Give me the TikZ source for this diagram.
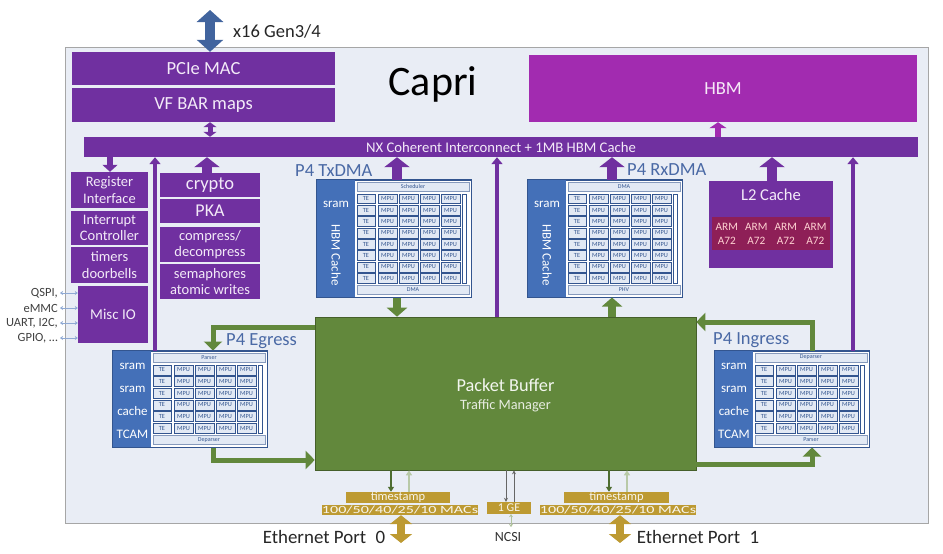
\documentclass[tikz,border=0pt]{standalone}
\usepackage{fontspec}
\setmainfont{Carlito}
\usetikzlibrary{arrows.meta}
\definecolor{pur}{HTML}{7030A0}
\definecolor{hbmc}{HTML}{A22BB0}
\definecolor{armred}{HTML}{8E1F57}
\definecolor{pblue}{HTML}{4470B8}
\definecolor{pline}{HTML}{33558F}
\definecolor{pcell}{HTML}{E2E9F4}
\definecolor{grn}{HTML}{62883C}
\definecolor{gold}{HTML}{BD9A32}
\definecolor{framefill}{HTML}{E9EDF5}
\definecolor{lbl}{HTML}{4A69A5}
\definecolor{ltext}{HTML}{F3EAF8}
\definecolor{pcieblue}{HTML}{41649E}
\newcommand\fsz[2]{\fontsize{#1}{#2}\selectfont}
\tikzset{
  pbox/.style={fill=pur, text=ltext, inner sep=0, align=center, font=\fsz{14.5}{16.5}},
  p4lbl/.style={text=lbl, font=\fsz{18.5}{20}, anchor=west, inner sep=0},
  bluelbl/.style={text=white, font=\fsz{13}{14}, inner sep=0},
  pcellst/.style={draw=pline, line width=0.4pt, fill=pcell, inner sep=0, font=\fsz{6.3}{6.5}, text=pline},
  pbar/.style={fill=pcell, draw=pline!60, line width=0.4pt, font=\fsz{6}{6}, text=pline, inner sep=0},
  fatup/.style={draw=pur, line width=10pt, -{Triangle[width=25pt,length=10pt]}},
  thinup/.style={draw=pur, line width=3.5pt, -{Triangle[width=11pt,length=7pt]}},
  grnarrow/.style={draw=grn, line width=8pt, -{Triangle[width=20pt,length=9pt]}},
  grnloop/.style={draw=grn, line width=5pt, -{Triangle[width=18pt,length=9pt]}},
  goldbox/.style={fill=gold, text=white!90!gold, inner sep=0},
  golddbl/.style={draw=gold, line width=8pt, {Triangle[width=22pt,length=9pt]}-{Triangle[width=22pt,length=9pt]}},
  iodbl/.style={draw=pblue!60, line width=1pt, {Stealth[width=4pt,length=3pt]}-{Stealth[width=4pt,length=3pt]}},
  macdn/.style={draw=grn!80!black, line width=1.6pt, -{Triangle[width=6pt,length=5pt]}},
  macup/.style={draw=grn!45, line width=1.6pt, -{Triangle[width=6pt,length=5pt]}},
}
\newcommand\pfour[7]{%
  \node[draw=pline, line width=1pt, fill=white, minimum width=154, minimum height=#4, inner sep=0] (#1) at ({#2+77},{#3+#4/2}) {};
  \fill[pblue] (#2,#3) rectangle ({#2+38},{#3+#4});
  \node[pbar, minimum width=112, minimum height=9] (#1-top) at ({#2+96},{#3+6.5}) {#6};
  \pgfmathsetmacro\rh{(#4-26)/#5}
  \foreach \i in {1,...,#5}{
    \pgfmathsetmacro\cy{#3+13+(\i-0.5)*\rh}
    \node[pcellst, minimum width=18, minimum height=\rh-1.6] (#1-te\i) at ({#2+49},\cy) {TE};
    \foreach \j in {1,...,4}{
      \node[pcellst, minimum width=19, minimum height=\rh-1.6] (#1-m\i-\j) at ({#2+61+(\j-1)*21+9.5},\cy) {MPU};
    }
  }
  \draw[pline, fill=white, line width=0.6pt] ({#2+145},{#3+14}) rectangle ({#2+149},{#3+#4-14});
  \node[pbar, minimum width=112, minimum height=9] (#1-bot) at ({#2+96},{#3+#4-7}) {#7};
  \draw[pline, line width=1pt] (#1.north west) rectangle (#1.south east);
}
\begin{document}
\begin{tikzpicture}[x=1pt,y=-1pt]
\useasboundingbox (0,0) rectangle (943,554);
\fill[white] (0,0) rectangle (943,554);
% frame
\node[draw=gray!70, line width=1pt, fill=framefill, minimum width=863, minimum height=476, inner sep=0] (capri) at (496.5,285) {};
\node[font=\fsz{42}{44}, anchor=base, inner sep=0] (capritxt) at (433,95) {Capri};
% top blocks
\node[pbox, font=\fsz{18.5}{20}, minimum width=263, minimum height=33] (pcie) at (203.5,68.5) {PCIe MAC};
\node[pbox, font=\fsz{18.5}{20}, minimum width=263, minimum height=34] (vfbar) at (203.5,105) {VF BAR maps};
\node[fill=hbmc, text=white!90!hbmc, font=\fsz{18.5}{20}, minimum width=388, minimum height=67, inner sep=0] (hbm) at (723,88.5) {HBM};
\node[fill=pur, text=ltext, font=\fsz{14.7}{16}, minimum width=834, minimum height=20, inner sep=0] (ic) at (501,147) {NX Coherent Interconnect + 1MB HBM Cache};
% PCIe arrow
\coordinate (pcietop) at (210,10);
\draw[draw=pcieblue, line width=10pt, {Triangle[width=26pt,length=12pt]}-{Triangle[width=26pt,length=12pt]}] (pcietop) -- (pcietop |- pcie.north);
\node[font=\fsz{18.5}{20}, text=black!85, anchor=west, inner sep=0] (gen) at (233,31) {x16 Gen3/4};
\coordinate (vfx) at (210,0);
\draw[draw=pur, line width=5pt, {Triangle[width=13pt,length=5pt]}-{Triangle[width=13pt,length=5pt]}] (vfx |- vfbar.south) -- (vfx |- ic.north);
\coordinate (hbmx) at (718,0);
\draw[draw=hbmc, line width=6pt, -{Triangle[width=17pt,length=6pt]}] (hbmx |- ic.north) -- (hbmx |- hbm.south);
% left column
\node[pbox, minimum width=77, minimum height=36] (regif) at (109.5,190) {Register\\Interface};
\node[pbox, minimum width=77, minimum height=34] (intc) at (109.5,228) {Interrupt\\Controller};
\node[pbox, minimum width=77, minimum height=36] (timers) at (109.5,265) {timers\\doorbells};
\node[pbox, font=\fsz{15}{16}, minimum width=70, minimum height=57] (misc) at (113,314.5) {Misc IO};
\node[pbox, font=\fsz{18.5}{20}, minimum width=100, minimum height=24] (crypto) at (210,185) {crypto};
\node[pbox, font=\fsz{18}{20}, minimum width=100, minimum height=24] (pka) at (210,211) {PKA};
\node[pbox, minimum width=100, minimum height=35] (compr) at (210,244.5) {compress/\\decompress};
\node[pbox, minimum width=100, minimum height=35] (sema) at (210,281.5) {semaphores\\atomic writes};
\coordinate (regx) at (110,0);
\draw[draw=pur, line width=6pt, -{Triangle[width=15pt,length=7pt]}] (regx |- ic.south) -- (regx |- regif.north);
\coordinate (crx) at (207,0);
\draw[fatup] (crx |- crypto.north) -- (crx |- ic.south);
% misc io labels
\foreach \t/\yy/\n in {{QSPI,}/293/q1, eMMC/308/q2, {UART, I2C,}/323/q3, {GPIO, \dots}/338/q4}{
  \node[font=\fsz{12.5}{13}, text=black!75, anchor=east, inner sep=0] (\n) at (58,\yy) {\t};
  \draw[iodbl] ([xshift=2pt]\n.east) -- (\n.east -| misc.west);
}
% P4 blocks
\pfour{tx}{317}{180}{117}{8}{Scheduler}{DMA}
\pfour{rx}{528}{180}{117}{8}{DMA}{PHV}
\pfour{eg}{113}{351}{96}{6}{Parser}{Deparser}
\pfour{ig}{715}{351}{96}{6}{Deparser}{Parser}
\node[p4lbl] (txl) at (295,171) {P4 TxDMA};
\node[p4lbl] (rxl) at (627,170) {P4 RxDMA};
\node[p4lbl] (egl) at (226,341) {P4 Egress};
\node[p4lbl] (igl) at (713,340) {P4 Ingress};
\node[bluelbl] (txs) at (336,204) {sram};
\node[bluelbl, rotate=-90] (txh) at (336,255) {HBM Cache};
\node[bluelbl] (rxs) at (547,204) {sram};
\node[bluelbl, rotate=-90] (rxh) at (547,255) {HBM Cache};
\foreach \t/\yy/\n in {sram/366/a, sram/389/b, cache/411/c, TCAM/434/d}{
  \node[bluelbl] (eg\n) at (132.5,\yy) {\t};
  \node[bluelbl] (ig\n) at (734,\yy) {\t};
}
% L2 cache
\node[fill=pur, minimum width=124, minimum height=87, inner sep=0] (l2) at (771,224.5) {};
\node[text=ltext, font=\fsz{16.6}{18}, inner sep=0] (l2t) at (771,195) {L2 Cache};
\node[fill=armred, minimum width=118, minimum height=33, inner sep=0] (arm) at (771,233.5) {};
\foreach \k in {0,...,3}{
  \node[text=pink!70!white, font=\fsz{11.3}{14}, align=center, inner sep=0] (arm\k) at ({726.75+\k*29.5},233.5) {ARM\\A72};
}
% packet buffer
\node[fill=grn, draw=grn!70!black, line width=0.6pt, minimum width=381, minimum height=153, inner sep=0] (pb) at (505.5,393.5) {};
\node[text=white!92!grn, font=\fsz{18.3}{20}, inner sep=0] (pbt) at (505.5,385) {Packet Buffer};
\node[text=white!85!grn, font=\fsz{14.3}{16}, inner sep=0] (pbs) at (505.5,406) {Traffic Manager};
% arrows to interconnect
\coordinate (egx) at (155,0);
\draw[thinup] (egx |- eg.north) -- (egx |- ic.south);
\coordinate (txx) at (397,0);
\draw[fatup] (txx |- tx.north) -- (txx |- ic.south);
\coordinate (pbx) at (497,0);
\draw[thinup] (pbx |- pb.north) -- (pbx |- ic.south);
\coordinate (rxx) at (612,0);
\draw[fatup] (rxx |- rx.north) -- (rxx |- ic.south);
\coordinate (l2x) at (772,0);
\draw[fatup] (l2x |- l2.north) -- (l2x |- ic.south);
\coordinate (igx) at (853,0);
\draw[thinup] (igx |- ig.north) -- (igx |- ic.south);
% green
\draw[grnarrow] (txx |- tx.south) -- (txx |- pb.north);
\draw[grnarrow] (rxx |- pb.north) -- (rxx |- rx.south);
\coordinate (egt) at (213,327);
\draw[grnloop] (egt -| pb.west) -- (egt) -- (egt |- eg.north);
\coordinate (egb) at (213,460);
\draw[grnloop] (egb |- eg.south) -- (egb) -- (egb -| pb.west);
\coordinate (igt) at (812,322);
\draw[grnloop] (igt |- ig.north) -- (igt) -- (igt -| pb.east);
\coordinate (igb) at (812,464);
\draw[grnloop] (igb -| pb.east) -- (igb) -- (igb |- ig.south);
% bottom MACs
\node[goldbox, font=\fsz{12.5}{12}, minimum width=104, minimum height=11] (ts0) at (398,497.5) {timestamp};
\node[goldbox, minimum width=140, minimum height=10] (mac0) at (400,510) {\fsz{11.5}{11}\scalebox{1.4}[0.95]{100/50/40/25/10 MACs}};
\node[goldbox, font=\fsz{12}{12}, minimum width=44, minimum height=12] (ge) at (509,508) {1 GE};
\node[goldbox, font=\fsz{12.5}{12}, minimum width=105, minimum height=11] (ts1) at (616.5,497.5) {timestamp};
\node[goldbox, minimum width=140, minimum height=10] (mac1) at (618,510) {\fsz{11.5}{11}\scalebox{1.4}[0.95]{100/50/40/25/10 MACs}};
\coordinate (m0d) at (391,0); \coordinate (m0u) at (409,0);
\coordinate (m1d) at (609,0); \coordinate (m1u) at (627,0);
\draw[macdn] (m0d |- pb.south) -- (m0d |- ts0.north);
\draw[macup] (m0u |- ts0.north) -- (m0u |- pb.south);
\draw[macdn] (m1d |- pb.south) -- (m1d |- ts1.north);
\draw[macup] (m1u |- ts1.north) -- (m1u |- pb.south);
\coordinate (ged) at (506,0); \coordinate (geu) at (514,0);
\draw[draw=black!60, line width=0.9pt, -{Stealth[width=4pt,length=4pt]}] (ged |- pb.south) -- (ged |- ge.north);
\draw[draw=black!60, line width=0.9pt, -{Stealth[width=4pt,length=4pt]}] (geu |- ge.north) -- (geu |- pb.south);
\coordinate (e0) at (401,543); \coordinate (e1) at (620,543);
\draw[golddbl] (e0 |- mac0.south) -- (e0);
\draw[golddbl] (e1 |- mac1.south) -- (e1);
\coordinate (nc) at (511,527);
\draw[draw=grn!50, line width=1pt, {Stealth[width=4pt,length=3pt]}-{Stealth[width=4pt,length=3pt]}] (nc |- ge.south) -- (nc);
\node[font=\fsz{18.9}{20}, text=black!85, inner sep=0] (eth0) at (324,537) {Ethernet Port\enspace0};
\node[font=\fsz{18.9}{20}, text=black!85, inner sep=0] (eth1) at (698,537) {Ethernet Port\enspace1};
\node[font=\fsz{14}{15}, text=black!80, inner sep=0] (ncsi) at (508,537) {NCSI};
\end{tikzpicture}
\end{document}
